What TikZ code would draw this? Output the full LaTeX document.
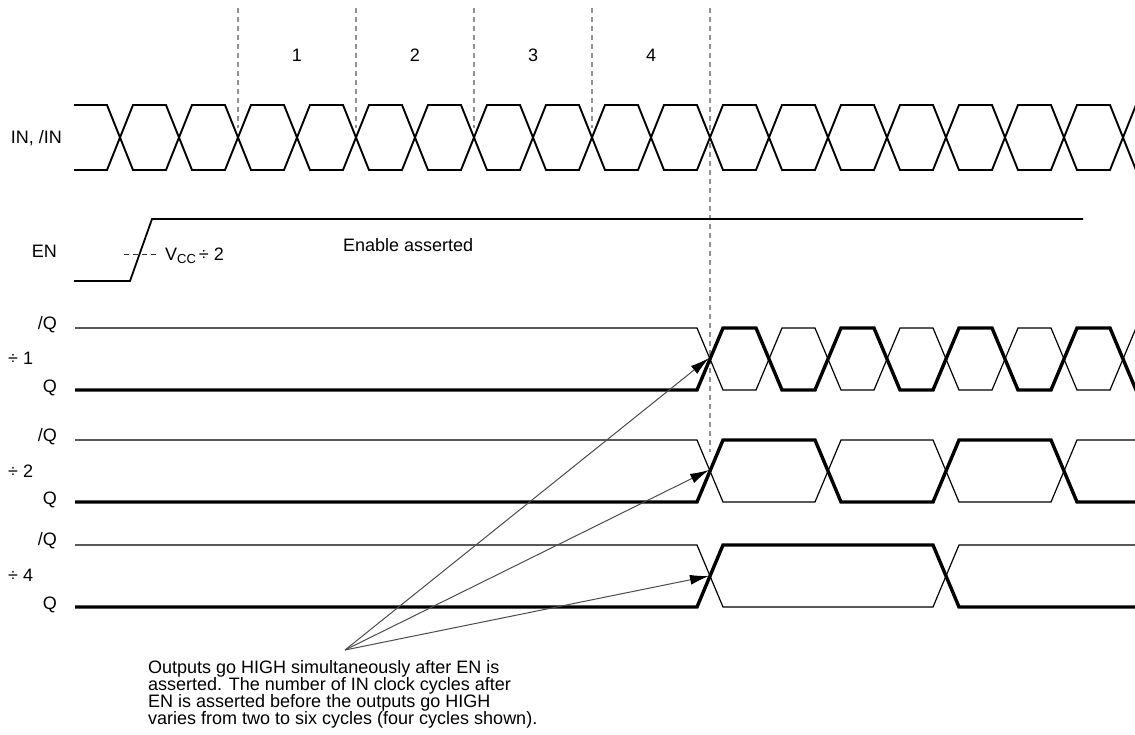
\documentclass[tikz,border=0pt]{standalone}
\usepackage{fontspec}
\setmainfont{Liberation Sans}
\usetikzlibrary{arrows.meta}
\begin{document}
\begin{tikzpicture}[x=1pt,y=-1pt,
  lbl/.style={inner sep=0pt,font=\fontsize{18}{17}\selectfont},
  sig/.style={line width=1.9pt,line join=miter},
  thinsig/.style={line width=1.2pt},
  thicksig/.style={line width=3.4pt},
  guide/.style={gray!85,line width=1.3pt,dash pattern=on 5pt off 4pt},
  callout/.style={black!70,line width=1pt,-{Latex[length=19pt,width=10pt,color=black]}},
  pt/.style={inner sep=0pt,minimum size=0pt}]
\useasboundingbox[fill=white] (0,0) rectangle (1135,734);
\clip (0,0) rectangle (1135,734);

% cycle guides
\foreach \x in {238,356,474,592} \draw[guide] (\x,8) -- (\x,128);
\draw[guide] (710,8) -- (710,452);

% cycle numbers
\node[lbl] (n1) at (297,55) {1};
\node[lbl] (n2) at (415,55) {2};
\node[lbl] (n3) at (533,55) {3};
\node[lbl] (n4) at (651,55) {4};

% row labels
\node[lbl,anchor=base east] (lin) at (62,143) {IN, /IN};
\node[lbl,anchor=base east] (len) at (57,257) {EN};
\node[lbl,anchor=base east] (lq1n) at (57,329) {/Q};
\node[lbl,anchor=base west] (ld1) at (8,364) {÷ 1};
\node[lbl,anchor=base east] (lq1) at (57,392) {Q};
\node[lbl,anchor=base east] (lq2n) at (57,441) {/Q};
\node[lbl,anchor=base west] (ld2) at (8,477) {÷ 2};
\node[lbl,anchor=base east] (lq2) at (57,504) {Q};
\node[lbl,anchor=base east] (lq4n) at (57,545) {/Q};
\node[lbl,anchor=base west] (ld4) at (8,581) {÷ 4};
\node[lbl,anchor=base east] (lq4) at (57,609) {Q};

% IN, /IN
\draw[sig] (74,105)--(107,105)--(133,170)--(166,170)--(192,105)--(225,105)--(251,170)--(284,170)--(310,105)--(343,105)--(369,170)--(402,170)--(428,105)--(461,105)--(487,170)--(520,170)--(546,105)--(579,105)--(605,170)--(638,170)--(664,105)--(697,105)--(723,170)--(756,170)--(782,105)--(815,105)--(841,170)--(874,170)--(900,105)--(933,105)--(959,170)--(992,170)--(1018,105)--(1051,105)--(1077,170)--(1110,170)--(1136,105)--(1140,105);
\draw[sig] (74,170)--(107,170)--(133,105)--(166,105)--(192,170)--(225,170)--(251,105)--(284,105)--(310,170)--(343,170)--(369,105)--(402,105)--(428,170)--(461,170)--(487,105)--(520,105)--(546,170)--(579,170)--(605,105)--(638,105)--(664,170)--(697,170)--(723,105)--(756,105)--(782,170)--(815,170)--(841,105)--(874,105)--(900,170)--(933,170)--(959,105)--(992,105)--(1018,170)--(1051,170)--(1077,105)--(1110,105)--(1136,170)--(1140,170);

% EN
\draw[line width=1.8pt] (74,281)--(130,281)--(152,219)--(1083,219);
\draw[black!80,line width=1pt,dash pattern=on 5pt off 4pt] (124,254)--(157,254);
\node[lbl,anchor=base west] (vcc) at (165,260) {V\raisebox{-0.35ex}{\fontsize{13}{13}\selectfont CC}\,÷ 2};
\node[lbl,anchor=base west] (ena) at (343,251) {Enable asserted};

% divide by 1
\draw[thinsig] (75,328)--(697,328)--(723,390)--(756,390)--(782,328)--(815,328)--(841,390)--(874,390)--(900,328)--(933,328)--(959,390)--(992,390)--(1018,328)--(1051,328)--(1077,390)--(1110,390)--(1136,328)--(1140,328);
\draw[thicksig] (75,390)--(697,390)--(723,328)--(756,328)--(782,390)--(815,390)--(841,328)--(874,328)--(900,390)--(933,390)--(959,328)--(992,328)--(1018,390)--(1051,390)--(1077,328)--(1110,328)--(1136,390)--(1140,390);

% divide by 2
\draw[thinsig] (75,440)--(697,440)--(723,502)--(815,502)--(841,440)--(933,440)--(959,502)--(1051,502)--(1077,440)--(1140,440);
\draw[thicksig] (75,502)--(697,502)--(723,440)--(815,440)--(841,502)--(933,502)--(959,440)--(1051,440)--(1077,502)--(1140,502);

% divide by 4
\draw[thinsig] (75,545)--(697,545)--(723,607)--(933,607)--(959,545)--(1140,545);
\draw[thicksig] (75,607)--(697,607)--(723,545)--(933,545)--(959,607)--(1140,607);

% crossing points
\coordinate (x1) at (709,358);
\coordinate (x2) at (709,470);
\coordinate (x4) at (709,576);
\coordinate (src) at (345,650);

% callouts
\draw[callout] (src) -- (x1);
\draw[callout] (src) -- (x2);
\draw[callout] (src) -- (x4);

\node[lbl,anchor=north west,align=left] (note) at (148,660)
  {Outputs go HIGH simultaneously after EN is\\
   asserted. The number of IN clock cycles after\\
   EN is asserted before the outputs go HIGH\\
   varies from two to six cycles (four cycles shown).};
\end{tikzpicture}
\end{document}
